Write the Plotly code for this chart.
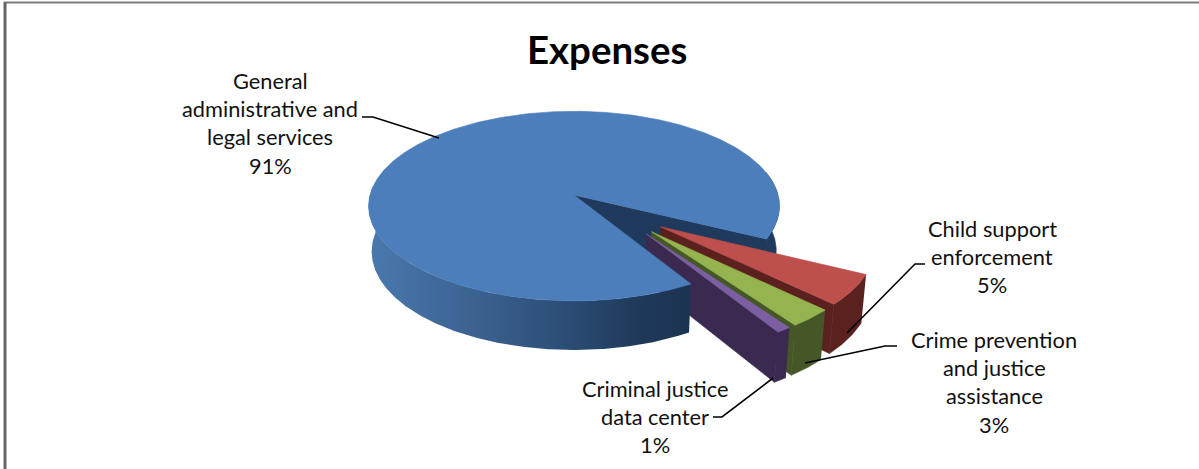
import numpy as np
import plotly.graph_objects as go

# ---- data ----
categories = ["General administrative and legal services", "Child support enforcement",
              "Crime prevention and justice assistance", "Criminal justice data center"]
percent = [91, 5, 3, 1]
label_lines = [["General", "administrative and", "legal services", "91%"],
               ["Child support", "enforcement", "5%"],
               ["Crime prevention", "and justice", "assistance", "3%"],
               ["Criminal justice", "data center", "1%"]]
title = "Expenses"

# ---- styling ----
top_colors = ["#4c7ebb", "#bd4f4c", "#95b44f", "#7c5fa3"]
wall_colors = ["#1f3a5c", "#5a211f", "#465727", "#3a2a50"]

# ---- perspective model of an exploded 3D pie ----
CX, CY = 575.0, 195.0
RX, RY, RZ = 204.0, 93.5, 45.7
T, Q = 0.117, 0.015
EXPLODE = 0.26
FIRST_END = 26.5  # degrees where the large slice stops, clockwise on screen


def project(X, Y, z):
    w = 1 - T * Y + Q * z
    return CX + RX * X / w, CY + (RY * Y + RZ * z) / w


fracs = np.array(percent) / sum(percent)
spans = fracs * 360
start = FIRST_END - spans[0]
bounds = []
a = start
for s in spans:
    bounds.append((a, a + s))
    a += s
mid0 = np.radians(sum(bounds[0]) / 2)
ox0, oy0 = EXPLODE * np.cos(mid0), EXPLODE * np.sin(mid0)


def slice_geom(i):
    a0, a1 = bounds[i]
    mid = np.radians((a0 + a1) / 2)
    ox = EXPLODE * np.cos(mid) - ox0
    oy = EXPLODE * np.sin(mid) - oy0
    th = np.radians(np.linspace(a0, a1, max(24, int((a1 - a0) * 2))))
    return ox, oy, th


def poly(xs, ys, color=None, gradient=None):
    if gradient:
        kw = dict(fillgradient=gradient)
        ln = dict(width=0, color="rgba(0,0,0,0)")
    else:
        kw = dict(fillcolor=color)
        ln = dict(width=0.6, color=color)
    return go.Scatter(x=list(xs), y=list(ys), mode="lines", fill="toself",
                      line=ln, hoverinfo="skip", showlegend=False, **kw)


def rim_wall(ox, oy, th):
    xt, yt = project(ox + np.cos(th), oy + np.sin(th), 0 * th)
    xb, yb = project(ox + np.cos(th), oy + np.sin(th), 0 * th + 1)
    return np.r_[xt, xb[::-1]], np.r_[yt, yb[::-1]]


def cut_wall(ox, oy, ang):
    c, s = np.cos(ang), np.sin(ang)
    pts = [(ox, oy, 0), (ox + c, oy + s, 0), (ox + c, oy + s, 1), (ox, oy, 1)]
    p = [project(*q) for q in pts]
    return [q[0] for q in p], [q[1] for q in p]


def top_face(ox, oy, th):
    xt, yt = project(ox + np.cos(th), oy + np.sin(th), 0 * th)
    ax, ay = project(ox, oy, 0)
    return np.r_[ax, xt, ax], np.r_[ay, yt, ay]


fig = go.Figure()
wall_gradient = dict(type="horizontal",
                     colorscale=[[0, "#4a78ae"], [0.3, "#3d6493"], [0.65, "#2a4a72"], [0.85, "#1e3858"], [1, "#1c3452"]])

# back of the large slice: the part of the rim on the right and its cut wall
ox, oy, th = slice_geom(0)
ox -= 0.005
deg = np.degrees(th)
front = th[deg <= -175]        # left extreme round to the front cut
back = th[deg >= -15]          # right extreme down to the far cut
x, y = rim_wall(ox, oy, back)
fig.add_trace(poly(x, y, color=wall_colors[0]))
x, y = cut_wall(ox, oy, th[-1])
fig.add_trace(poly(x, y, color=wall_colors[0]))

# pulled slices, far to near
for i in range(1, len(percent)):
    oxi, oyi, thi = slice_geom(i)
    x, y = rim_wall(oxi, oyi, thi)
    fig.add_trace(poly(x, y, color=wall_colors[i]))
    x, y = cut_wall(oxi, oyi, thi[-1])
    fig.add_trace(poly(x, y, color=wall_colors[i]))
    x, y = top_face(oxi, oyi, thi)
    fig.add_trace(poly(x, y, color=top_colors[i]))

# front of the large slice goes over them
x, y = rim_wall(ox, oy, front)
fig.add_trace(poly(x, y, gradient=wall_gradient))
x, y = top_face(ox, oy, th)
fig.add_trace(poly(x, y, color=top_colors[0]))

# leader lines
leaders = [([362, 373, 439], [117, 117, 138]),
           ([925, 915, 847], [264, 264, 333]),
           ([897, 885, 805], [346, 346, 363]),
           ([713, 722, 773], [417, 417, 378])]
for lx, ly in leaders:
    fig.add_trace(go.Scatter(x=lx, y=ly, mode="lines", line=dict(color="#000000", width=1.6),
                             hoverinfo="skip", showlegend=False))

# labels
anchors = [(270, 80), (992, 228), (994, 339), (655, 388)]
annotations = []
for (ax, ay), lines in zip(anchors, label_lines):
    for k, t in enumerate(lines):
        annotations.append(dict(x=ax, y=ay + k * 28.4, text=t, showarrow=False, xanchor="center",
                                yanchor="middle", font=dict(family="Lato", size=21.8, color="#111111")))
annotations.append(dict(x=607, y=49, text="<b>" + title + "</b>", showarrow=False, xanchor="center",
                        yanchor="middle", font=dict(family="Lato", size=38.4, color="#000000")))

frame = [dict(type="line", x0=4, x1=1199, y0=2.5, y1=2.5, line=dict(color="#7f7f7f", width=2)),
         dict(type="line", x0=5, x1=5, y0=2, y1=469, line=dict(color="#666666", width=3))]

fig.update_layout(width=1199, height=469, margin=dict(l=0, r=0, t=0, b=0),
                  paper_bgcolor="white", plot_bgcolor="white",
                  xaxis=dict(range=[0, 1199], visible=False, fixedrange=True),
                  yaxis=dict(range=[469, 0], visible=False, fixedrange=True),
                  annotations=annotations, shapes=frame, showlegend=False)
fig.write_html("out.html", config={"displayModeBar": False},
               post_script="document.body.style.margin='0';document.documentElement.style.overflow='hidden';")
